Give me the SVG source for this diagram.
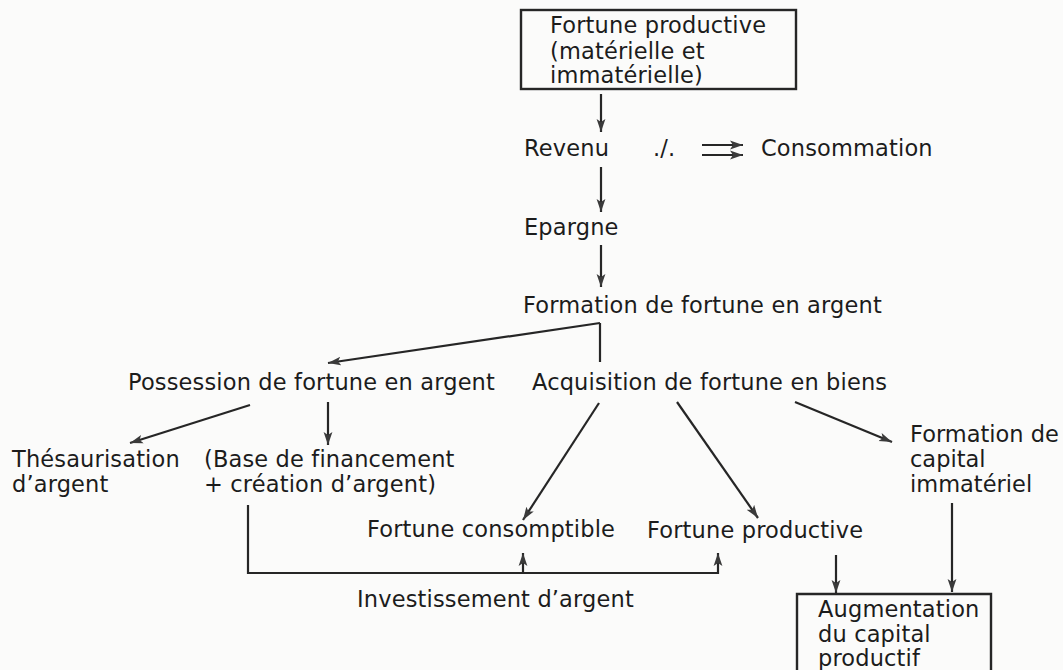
<svg xmlns="http://www.w3.org/2000/svg" width="1063" height="670" viewBox="0 0 1063 670">
<defs>
<marker id="ah" markerUnits="userSpaceOnUse" markerWidth="14" markerHeight="10" refX="13" refY="5" orient="auto">
<path d="M0,0.6 L13,5 L0,9.4 L3,5 Z" fill="#3a3a3a"/>
</marker>
</defs>
<style>
text{font-family:"DejaVu Sans","Liberation Sans",sans-serif;font-size:22.5px;letter-spacing:0.15px;fill:#1c1c1c}
.tight{letter-spacing:0}
.ln{stroke:#262626;stroke-width:2.2;fill:none}
.box{stroke:#262626;stroke-width:2.4;fill:none}
</style>
<rect width="1063" height="670" fill="#fbfbfa"/>
<g id="connectors">
<line class="ln" x1="601" y1="94" x2="601" y2="132" marker-end="url(#ah)"/>
<line class="ln" x1="601" y1="167" x2="601" y2="212" marker-end="url(#ah)"/>
<line class="ln" x1="601" y1="245" x2="601" y2="287" marker-end="url(#ah)"/>
<line class="ln" x1="702" y1="145" x2="743" y2="145" marker-end="url(#ah)"/>
<line class="ln" x1="702" y1="155" x2="743" y2="155" marker-end="url(#ah)"/>
<line class="ln" x1="600" y1="323" x2="328" y2="363" marker-end="url(#ah)"/>
<line class="ln" x1="600" y1="323" x2="600" y2="362"/>
<line class="ln" x1="250" y1="405" x2="130" y2="443" marker-end="url(#ah)"/>
<line class="ln" x1="328" y1="402" x2="328" y2="445" marker-end="url(#ah)"/>
<line class="ln" x1="599" y1="403" x2="523" y2="520" marker-end="url(#ah)"/>
<line class="ln" x1="677" y1="402" x2="758" y2="518" marker-end="url(#ah)"/>
<line class="ln" x1="795" y1="402" x2="892" y2="442" marker-end="url(#ah)"/>
<path class="ln" d="M248,505 V573 H718 V553" marker-end="url(#ah)"/>
<line class="ln" x1="523" y1="573" x2="523" y2="553" marker-end="url(#ah)"/>
<line class="ln" x1="836" y1="555" x2="836" y2="593" marker-end="url(#ah)"/>
<line class="ln" x1="952" y1="503" x2="952" y2="592" marker-end="url(#ah)"/>
</g>
<g id="n-fortune-top">
<rect class="box" x="521" y="10" width="275" height="79"/>
<text x="550" y="33">Fortune productive</text>
<text x="550" y="59">(matérielle et</text>
<text x="550" y="83">immatérielle)</text>
</g>
<g id="n-revenu"><text x="524" y="156">Revenu</text></g>
<g id="n-moins"><text x="653" y="156">./.</text></g>
<g id="n-consommation"><text x="761" y="156">Consommation</text></g>
<g id="n-epargne"><text x="524" y="235">Epargne</text></g>
<g id="n-formation-argent"><text x="523" y="313">Formation de fortune en argent</text></g>
<g id="n-possession"><text x="128" y="390">Possession de fortune en argent</text></g>
<g id="n-acquisition"><text x="532" y="390">Acquisition de fortune en biens</text></g>
<g id="n-thesaurisation">
<text x="12" y="467">Thésaurisation</text>
<text x="12" y="492">d’argent</text>
</g>
<g id="n-base">
<text x="204" y="467">(Base de financement</text>
<text x="204" y="492">+ création d’argent)</text>
</g>
<g id="n-formation-capital">
<text class="tight" x="910" y="442">Formation de</text>
<text class="tight" x="910" y="467">capital</text>
<text class="tight" x="910" y="492">immatériel</text>
</g>
<g id="n-consomptible"><text x="367" y="537">Fortune consomptible</text></g>
<g id="n-productive"><text x="647" y="538">Fortune productive</text></g>
<g id="n-investissement"><text x="357" y="607">Investissement d’argent</text></g>
<g id="n-augmentation">
<path class="box" d="M797,680 V594 H991 V680"/>
<text x="818" y="617">Augmentation</text>
<text x="818" y="642">du capital</text>
<text x="818" y="666">productif</text>
</g>
</svg>
